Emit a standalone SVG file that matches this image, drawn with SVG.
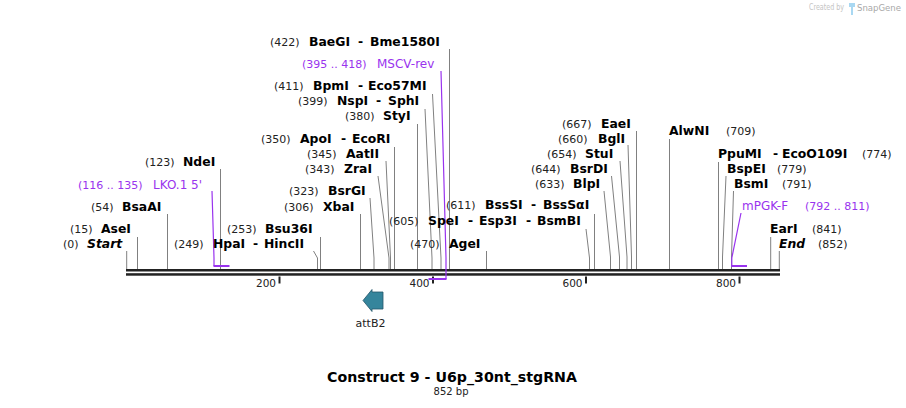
<svg xmlns="http://www.w3.org/2000/svg" width="906" height="408" viewBox="0 0 906 408">
<style>
text{font-family:"DejaVu Sans",Verdana,sans-serif}
.num{font-size:11px;fill:#222}
.nm{font-size:12.4px;font-weight:bold;fill:#000}
.it{font-style:italic}
.prn{font-size:12px;fill:#9933ee}
.prs{font-size:11px;fill:#9933ee}
.ln{stroke:#808080;stroke-width:1;fill:none}
.pl{stroke:#9933ee;stroke-width:1.2;fill:none}
.pb{stroke:#9933ee;stroke-width:2;fill:none}
.tk{stroke:#222;stroke-width:2}
.tl{font-size:10.5px;fill:#222;text-anchor:end}
</style>
<rect width="906" height="408" fill="#fff"/>
<g id="logo">
<text x="809" y="10" font-size="8" fill="#c4c4c4" textLength="35" lengthAdjust="spacingAndGlyphs">Created by</text>
<path d="M849,3 h6 v4 h-2 v8 h-2 v-8 h-2 z" fill="#a9d8f2"/>
<text x="857" y="11" font-size="9.5" fill="#a8a8a8" textLength="44" lengthAdjust="spacingAndGlyphs">SnapGene</text>
</g>
<g id="connectors">
<polyline class="ln" points="126.7,251 126.7,269"/>
<polyline class="ln" points="137.5,237 137.5,269"/>
<polyline class="ln" points="167.5,214 167.5,269"/>
<polyline class="ln" points="220.5,169 220.5,269"/>
<polyline class="ln" points="313.5,251 317.5,258 317.5,269"/>
<polyline class="ln" points="320.5,237 320.5,269"/>
<polyline class="ln" points="360.5,214 360.5,269"/>
<polyline class="ln" points="370,198 374,258 374,269"/>
<polyline class="ln" points="378,176 389,258 389,269"/>
<polyline class="ln" points="386,161 390.5,258 390.5,269"/>
<polyline class="ln" points="394.5,147 394.5,269"/>
<polyline class="ln" points="417.5,124 417.5,269"/>
<polyline class="ln" points="425,109 432,258 432,269"/>
<polyline class="ln" points="432.5,94 441,258 441,269"/>
<polyline class="ln" points="449.5,49 449.5,269"/>
<polyline class="ln" points="486.5,251 486.5,269"/>
<polyline class="ln" points="586,229 589.5,258 589.5,269"/>
<polyline class="ln" points="594.5,214 594.5,269"/>
<polyline class="ln" points="604,191 610.5,257 610.5,269"/>
<polyline class="ln" points="611.5,176 619.5,257 619.5,269"/>
<polyline class="ln" points="620,161 627,257 627,269"/>
<polyline class="ln" points="628,145 631.5,257 631.5,269"/>
<polyline class="ln" points="636.5,131 636.5,269"/>
<polyline class="ln" points="669.5,139 669.5,269"/>
<polyline class="ln" points="718.5,162 718.5,269"/>
<polyline class="ln" points="726,176 722.5,257 722.5,269"/>
<polyline class="ln" points="733.5,191 731.5,257 731.5,269"/>
<polyline class="ln" points="770.7,237 770.7,269"/>
<polyline class="ln" points="779.3,251 779.3,269"/>
</g>
<g id="sequence">
<rect x="126" y="269" width="654" height="2.5" fill="#222"/>
<rect x="126" y="273.2" width="654" height="2.5" fill="#222"/>
<line class="tk" x1="279.5" y1="276.5" x2="279.5" y2="283.5"/>
<line class="tk" x1="433" y1="276.5" x2="433" y2="283.5"/>
<line class="tk" x1="586" y1="276.5" x2="586" y2="283.5"/>
<line class="tk" x1="739.5" y1="276.5" x2="739.5" y2="283.5"/>
<text class="tl" x="276" y="287">200</text>
<text class="tl" x="429.5" y="287">400</text>
<text class="tl" x="582.5" y="287">600</text>
<text class="tl" x="736" y="287">800</text>
</g>
<g id="primers">
<polyline class="pl" points="212,191 214,258 214,266"/>
<line class="pb" x1="213.5" y1="266" x2="229.5" y2="266"/>
<polyline class="pl" points="441,71 446,258 446,279"/>
<line class="pb" x1="428.5" y1="279" x2="446.5" y2="279"/>
<polyline class="pl" points="741,213 731.8,258 731.8,266"/>
<line class="pb" x1="731.2" y1="266" x2="747" y2="266"/>
</g>
<g id="site-start"><text class="num" x="63" y="248">(0)</text><text class="nm it" x="87" y="248">Start</text></g>
<g id="site-AseI"><text class="num" x="70" y="233">(15)</text><text class="nm" x="101" y="233">AseI</text></g>
<g id="site-BsaAI"><text class="num" x="91" y="211">(54)</text><text class="nm" x="122" y="211">BsaAI</text></g>
<g id="primer-LKO1"><text class="prs" x="78" y="189">(116 .. 135)</text><text class="prn" x="153" y="189">LKO.1 5'</text></g>
<g id="site-NdeI"><text class="num" x="145" y="166">(123)</text><text class="nm" x="183" y="166">NdeI</text></g>
<g id="site-HpaI"><text class="num" x="174" y="248">(249)</text><text class="nm" x="213" y="248">HpaI</text><text class="nm" x="253" y="248">-</text><text class="nm" x="264" y="248">HincII</text></g>
<g id="site-Bsu36I"><text class="num" x="227" y="233">(253)</text><text class="nm" x="265" y="233">Bsu36I</text></g>
<g id="site-XbaI"><text class="num" x="284" y="211">(306)</text><text class="nm" x="323" y="211">XbaI</text></g>
<g id="site-BsrGI"><text class="num" x="289" y="195">(323)</text><text class="nm" x="328" y="195">BsrGI</text></g>
<g id="site-ZraI"><text class="num" x="305" y="173">(343)</text><text class="nm" x="344" y="173">ZraI</text></g>
<g id="site-AatII"><text class="num" x="307" y="158">(345)</text><text class="nm" x="346" y="158">AatII</text></g>
<g id="site-ApoI"><text class="num" x="261" y="143">(350)</text><text class="nm" x="300" y="143">ApoI</text><text class="nm" x="341" y="143">-</text><text class="nm" x="352" y="143">EcoRI</text></g>
<g id="site-StyI"><text class="num" x="345" y="120">(380)</text><text class="nm" x="383" y="120">StyI</text></g>
<g id="site-NspI"><text class="num" x="298" y="105">(399)</text><text class="nm" x="337" y="105">NspI</text><text class="nm" x="376" y="105">-</text><text class="nm" x="388" y="105">SphI</text></g>
<g id="site-BpmI"><text class="num" x="274" y="90">(411)</text><text class="nm" x="313" y="90">BpmI</text><text class="nm" x="358" y="90">-</text><text class="nm" x="368" y="90">Eco57MI</text></g>
<g id="primer-MSCV"><text class="prs" x="302" y="68">(395 .. 418)</text><text class="prn" x="377" y="68">MSCV-rev</text></g>
<g id="site-BaeGI"><text class="num" x="270" y="46">(422)</text><text class="nm" x="309" y="46">BaeGI</text><text class="nm" x="358" y="46">-</text><text class="nm" x="370" y="46">Bme1580I</text></g>
<g id="site-AgeI"><text class="num" x="410" y="248">(470)</text><text class="nm" x="449" y="248">AgeI</text></g>
<g id="site-SpeI"><text class="num" x="389" y="225">(605)</text><text class="nm" x="428" y="225">SpeI</text><text class="nm" x="468" y="225">-</text><text class="nm" x="479" y="225">Esp3I</text><text class="nm" x="526" y="225">-</text><text class="nm" x="537" y="225">BsmBI</text></g>
<g id="site-BssSI"><text class="num" x="446" y="209">(611)</text><text class="nm" x="485" y="209">BssSI</text><text class="nm" x="531" y="209">-</text><text class="nm" x="543" y="209">BssSαI</text></g>
<g id="site-BlpI"><text class="num" x="535" y="188">(633)</text><text class="nm" x="573" y="188">BlpI</text></g>
<g id="site-BsrDI"><text class="num" x="531" y="173">(644)</text><text class="nm" x="570" y="173">BsrDI</text></g>
<g id="site-StuI"><text class="num" x="547" y="158">(654)</text><text class="nm" x="585" y="158">StuI</text></g>
<g id="site-BglI"><text class="num" x="558" y="143">(660)</text><text class="nm" x="598" y="143">BglI</text></g>
<g id="site-EaeI"><text class="num" x="562" y="128">(667)</text><text class="nm" x="601" y="128">EaeI</text></g>
<g id="site-AlwNI"><text class="nm" x="669" y="135">AlwNI</text><text class="num" x="726" y="135">(709)</text></g>
<g id="site-PpuMI"><text class="nm" x="718" y="158">PpuMI</text><text class="nm" x="773" y="158">-</text><text class="nm" x="782" y="158">EcoO109I</text><text class="num" x="862" y="158">(774)</text></g>
<g id="site-BspEI"><text class="nm" x="727" y="173">BspEI</text><text class="num" x="777" y="173">(779)</text></g>
<g id="site-BsmI"><text class="nm" x="734" y="188">BsmI</text><text class="num" x="782" y="188">(791)</text></g>
<g id="primer-mPGK"><text class="prn" x="742" y="210">mPGK-F</text><text class="prs" x="805" y="210">(792 .. 811)</text></g>
<g id="site-EarI"><text class="nm" x="770" y="233">EarI</text><text class="num" x="812" y="233">(841)</text></g>
<g id="site-end"><text class="nm it" x="779" y="248">End</text><text class="num" x="818" y="248">(852)</text></g>
<g id="feature-attB2">
<path d="M383,292 L372,292 L372,289.5 L363,300.5 L372,311.5 L372,309 L383,309 Z" fill="#35859c" stroke="#24566a" stroke-width="0.8"/>
<text x="370.5" y="327" font-size="11" fill="#222" text-anchor="middle">attB2</text>
</g>
<g id="title">
<text x="452" y="382" font-size="14.2" font-weight="bold" fill="#000" text-anchor="middle">Construct 9 - U6p_30nt_stgRNA</text>
<text x="451" y="395" font-size="10" fill="#222" text-anchor="middle">852 bp</text>
</g>
</svg>
